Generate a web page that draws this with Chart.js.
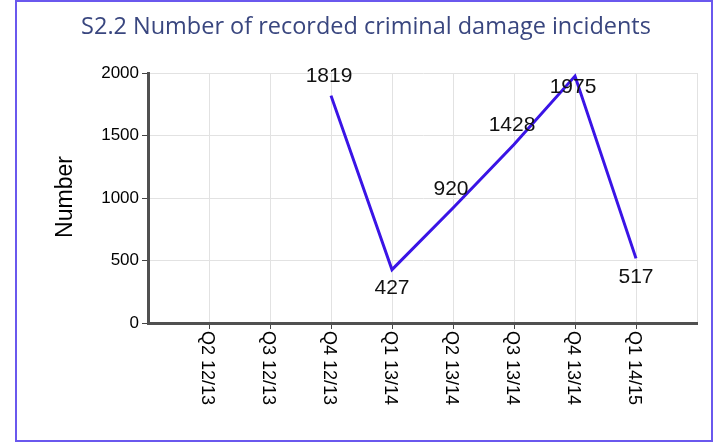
<!DOCTYPE html>
<html>
<head>
<meta charset="utf-8">
<script src="https://cdn.jsdelivr.net/npm/chart.js@4.4.1/dist/chart.umd.min.js"></script>
<style>
  html, body { margin: 0; padding: 0; background: #fff; }
  canvas { display: block; }
</style>
</head>
<body>
<canvas id="c" width="715" height="445"></canvas>
<script>
const chartTitle = 'S2.2 Number of recorded criminal damage incidents';
const yAxisTitle = 'Number';
const categories = ['', 'Q2 12/13', 'Q3 12/13', 'Q4 12/13', 'Q1 13/14', 'Q2 13/14', 'Q3 13/14', 'Q4 13/14', 'Q1 14/15', ''];
const incidents = [null, null, null, 1819, 427, 920, 1428, 1975, 517, null];
const labelPlacement = [null, null, null, 'above', 'below', 'above', 'above', 'inside', 'below', null];
const yTicks = [0, 500, 1000, 1500, 2000];

const lastIdx = categories.length - 1;

const decorPlugin = {
  id: 'decor',
  beforeDraw(chart) {
    const ctx = chart.ctx;
    ctx.save();
    ctx.fillStyle = '#ffffff';
    ctx.fillRect(0, 0, chart.width, chart.height);
    ctx.restore();
  },
  afterDraw(chart) {
    const ctx = chart.ctx;
    const xs = chart.scales.x;
    const area = chart.chartArea;
    ctx.save();
    // border
    ctx.strokeStyle = '#6a58ee';
    ctx.lineWidth = 2;
    ctx.strokeRect(16, 1, 696, 440);
    // title (fit width)
    let size = 24;
    ctx.font = size + 'px "Open Sans"';
    const w = ctx.measureText(chartTitle).width;
    size = size * 570 / w;
    ctx.font = size + 'px "Open Sans"';
    ctx.fillStyle = '#39467f';
    ctx.textAlign = 'center';
    ctx.textBaseline = 'middle';
    ctx.fillText(chartTitle, 366, 27);
    // y axis title
    ctx.save();
    ctx.translate(66, 197);
    ctx.rotate(-Math.PI / 2);
    ctx.font = '23px "Liberation Sans", Arial, sans-serif';
    ctx.fillStyle = '#000';
    ctx.textAlign = 'center';
    ctx.textBaseline = 'middle';
    ctx.fillText(yAxisTitle, 0, 0);
    ctx.restore();
    // x tick labels, reading top to bottom
    ctx.font = '18px "Liberation Sans", Arial, sans-serif';
    ctx.fillStyle = '#000';
    categories.forEach((lab, i) => {
      if (!lab) return;
      const x = xs.getPixelForValue(i);
      ctx.save();
      ctx.translate(x - 2, area.bottom + 8);
      ctx.rotate(Math.PI / 2);
      ctx.textAlign = 'left';
      ctx.textBaseline = 'middle';
      ctx.fillText(lab, 0, 0);
      ctx.restore();
    });
    ctx.restore();
  },
  afterDatasetsDraw(chart) {
    const ctx = chart.ctx;
    const meta = chart.getDatasetMeta(0);
    ctx.save();
    ctx.font = '21px "Liberation Sans Narrow", "Liberation Sans", Arial, sans-serif';
    ctx.fillStyle = '#111';
    ctx.textAlign = 'center';
    ctx.textBaseline = 'middle';
    meta.data.forEach((pt, i) => {
      const v = incidents[i];
      if (v === null || v === undefined) return;
      const p = labelPlacement[i];
      let dx = -2, dy = -19;
      if (p === 'below') { dx = 0; dy = 19; }
      else if (p === 'inside') { dx = -2; dy = 11; }
      ctx.fillText(String(v), pt.x + dx, pt.y + dy);
    });
    ctx.restore();
  }
};

new Chart(document.getElementById('c'), {
  type: 'line',
  data: {
    labels: categories,
    datasets: [{
      data: incidents,
      borderColor: '#3a14e6',
      borderWidth: 3,
      pointRadius: 0,
      pointHoverRadius: 0,
      tension: 0,
      spanGaps: false,
      fill: false
    }]
  },
  options: {
    responsive: false,
    animation: false,
    devicePixelRatio: 1,
    layout: { padding: { top: 73, right: 18, bottom: 0, left: 0 } },
    plugins: { legend: { display: false }, tooltip: { enabled: false }, title: { display: false } },
    scales: {
      x: {
        type: 'category',
        offset: false,
        grid: {
          color: ctx => (ctx.index === 0 ? 'rgba(0,0,0,0)' : '#e2e2e2'),
          lineWidth: 1,
          tickLength: 6,
          tickColor: ctx => ((ctx.index === 0 || ctx.index === lastIdx) ? 'rgba(0,0,0,0)' : '#444')
        },
        border: { display: true, color: '#505050', width: 3 },
        ticks: { display: false, autoSkip: false },
        afterFit: s => { s.height = 122; }
      },
      y: {
        min: 0,
        max: 2000,
        afterBuildTicks: s => { s.ticks = yTicks.map(v => ({ value: v })); },
        ticks: {
          color: '#000',
          font: { family: '"Liberation Sans", Arial, sans-serif', size: 17 },
          padding: 3,
          callback: v => String(v)
        },
        grid: {
          color: ctx => (ctx.index === 0 ? 'rgba(0,0,0,0)' : '#e2e2e2'),
          lineWidth: 1,
          tickLength: 6,
          tickColor: '#444'
        },
        border: { display: true, color: '#505050', width: 3 },
        afterFit: s => { s.width = 148; }
      }
    }
  },
  plugins: [decorPlugin]
});
</script>
</body>
</html>
